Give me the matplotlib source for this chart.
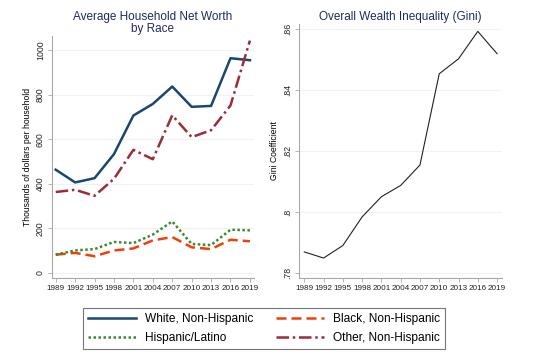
import matplotlib
matplotlib.use("Agg")
import matplotlib.pyplot as plt
from matplotlib.lines import Line2D

years = [1989, 1992, 1995, 1998, 2001, 2004, 2007, 2010, 2013, 2016, 2019]
white = [463, 406, 425, 533, 706, 758, 836, 745, 749, 963, 954]
black = [82, 90, 75, 101, 110, 146, 161, 115, 107, 149, 142]
hispanic = [82, 101, 107, 139, 134, 172, 231, 130, 125, 194, 191]
other = [363, 373, 346, 422, 552, 510, 707, 609, 640, 751, 1042]
gini = [0.7869, 0.7849, 0.7890, 0.7984, 0.8050, 0.8087, 0.8154, 0.8453, 0.8502, 0.8592, 0.8519]

left_yticks = [0, 200, 400, 600, 800, 1000]
right_yticks = [0.78, 0.80, 0.82, 0.84, 0.86]
right_ylabels = [".78", ".8", ".82", ".84", ".86"]

c_white = "#1a476f"
c_black = "#f0400a"
c_hisp = "#3c8a2e"
c_other = "#9b2c3a"
title_col = "#1e2d5e"
axis_col = "#a8a8a8"
grid_col = "#eef4f5"

fig = plt.figure(figsize=(5.4, 3.59), dpi=100)
ax1 = fig.add_axes([0.096, 0.226, 0.374, 0.674])
ax2 = fig.add_axes([0.554, 0.226, 0.376, 0.707])

xtickfont = dict(family="Liberation Sans", size=5.9)
ytickfont = dict(family="Liberation Sans", size=6.3)

lw = 1.8
ax1.plot(years, white, color=c_white, lw=lw, ls="-", label="White, Non-Hispanic")
ax1.plot(years, black, color=c_black, lw=lw, ls=(0, (4, 2)), label="Black, Non-Hispanic")
ax1.plot(years, hispanic, color=c_hisp, lw=lw, ls=(0, (1, 1)), label="Hispanic/Latino")
ax1.plot(years, other, color=c_other, lw=lw, ls=(0, (5, 1.5, 1, 1.5)), label="Other, Non-Hispanic")
ax1.set_xlim(1988.4, 2019.6)
ax1.set_ylim(-22, 1063)
ax1.set_yticks(left_yticks)
ax1.set_yticklabels([str(v) for v in left_yticks], rotation=90, va="center", **ytickfont)
ax1.set_ylabel("Thousands of dollars per household", fontsize=6.2, family="Liberation Sans",
               labelpad=3)
ax1.set_title("Average Household Net Worth\nby Race", fontsize=8.5, color=title_col,
              family="Liberation Sans", pad=2.5, linespacing=1.1)

ax2.plot(years, gini, color="#222222", lw=0.8)
ax2.set_xlim(1988.2, 2019.8)
ax2.set_ylim(0.7784, 0.8616)
ax2.set_yticks(right_yticks)
ax2.set_yticklabels(right_ylabels, rotation=90, va="center", **ytickfont)
ax2.set_ylabel("Gini Coefficient", fontsize=6.2, family="Liberation Sans", labelpad=3)
ax2.set_title("Overall Wealth Inequality (Gini)", fontsize=8.5, color=title_col,
              family="Liberation Sans", pad=3)

for ax in (ax1, ax2):
    ax.set_xticks(years)
    ax.set_xticklabels([str(y) for y in years], **xtickfont)
    for s in ("top", "right"):
        ax.spines[s].set_visible(False)
    for s in ("left", "bottom"):
        ax.spines[s].set_color(axis_col)
        ax.spines[s].set_linewidth(0.8)
    ax.tick_params(colors=axis_col, labelcolor="#222222", length=3, width=0.6, pad=2)
    ax.grid(axis="y", color=grid_col, lw=0.8)
    ax.set_axisbelow(True)

handles = [
    Line2D([], [], color=c_white, lw=lw, ls="-"),
    Line2D([], [], color=c_hisp, lw=lw, ls=(0, (1, 1))),
    Line2D([], [], color=c_black, lw=lw, ls=(0, (4, 2))),
    Line2D([], [], color=c_other, lw=lw, ls=(0, (5, 1.5, 1, 1.5))),
]
labels = ["White, Non-Hispanic", "Hispanic/Latino", "Black, Non-Hispanic", "Other, Non-Hispanic"]
leg = fig.legend(handles, labels, ncol=2, loc="center", bbox_to_anchor=(0.489, 0.085),
                 frameon=True, fancybox=False, edgecolor="#555555",
                 prop=dict(family="Liberation Sans", size=8.6), handlelength=4.0,
                 columnspacing=1.9, borderpad=0.45, labelspacing=0.55, handletextpad=0.75)
leg.get_frame().set_linewidth(0.8)

fig.savefig("out.png", dpi=100)
